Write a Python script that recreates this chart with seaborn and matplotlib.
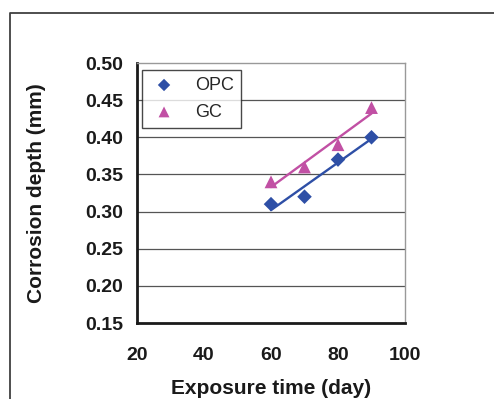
import numpy as np
import pandas as pd
import matplotlib
matplotlib.use("Agg")
import matplotlib.pyplot as plt
import seaborn as sns
from matplotlib.lines import Line2D

# data
days = [60, 70, 80, 90]
opc_depth = [0.31, 0.32, 0.37, 0.40]
gc_depth = [0.34, 0.36, 0.39, 0.44]

x_ticks = [20, 40, 60, 80, 100]
y_ticks = [0.15, 0.20, 0.25, 0.30, 0.35, 0.40, 0.45, 0.50]

df = pd.DataFrame({
    "day": days * 2,
    "depth": opc_depth + gc_depth,
    "mix": ["OPC"] * len(days) + ["GC"] * len(days),
})

sns.set_theme(style="white")
plt.rcParams["font.family"] = ["Liberation Sans", "DejaVu Sans"]

colors = {"OPC": "#2E4FA6", "GC": "#C150A4"}
markers = {"OPC": "D", "GC": "^"}
sizes = {"OPC": 55, "GC": 85}

fig = plt.figure(figsize=(4.94, 3.99), dpi=100)
ax = fig.add_axes([137 / 494, 1 - 323 / 399, 268 / 494, 260 / 399])

# outer frame of the figure (left and top edges visible)
fx, fy = 10 / 494, 1 - 13 / 399
fig.lines.append(Line2D([fx, fx, 1.01], [-0.01, fy, fy], transform=fig.transFigure,
                        color="#404040", linewidth=1.3))

# grid lines
for y in y_ticks[1:-1]:
    ax.axhline(y, color="#555555", linewidth=0.9, zorder=0)

# linear trend lines
for mix in ["OPC", "GC"]:
    sub = df[df["mix"] == mix]
    k, b = np.polyfit(sub["day"], sub["depth"], 1)
    xs = np.array([sub["day"].min(), sub["day"].max()])
    ax.plot(xs, k * xs + b, color=colors[mix], linewidth=1.7, zorder=2)

for mix in ["OPC", "GC"]:
    sub = df[df["mix"] == mix]
    sns.scatterplot(data=sub, x="day", y="depth", color=colors[mix],
                    marker=markers[mix], s=sizes[mix], edgecolor="none",
                    label=mix, ax=ax, zorder=3)

ax.set_xlim(20, 100)
ax.set_ylim(0.15, 0.50)
ax.set_xticks(x_ticks)
ax.set_yticks(y_ticks)
ax.set_yticklabels([f"{v:.2f}" for v in y_ticks])

for side in ["top", "right"]:
    ax.spines[side].set_color("#999999")
    ax.spines[side].set_linewidth(1.0)
for side in ["left", "bottom"]:
    ax.spines[side].set_color("#1a1a1a")
    ax.spines[side].set_linewidth(2.0)

ax.tick_params(axis="y", direction="out", length=5, width=2, color="#1a1a1a",
               labelsize=14, pad=5)
ax.tick_params(axis="x", direction="out", length=7, width=2, color="#1a1a1a",
               labelsize=14, pad=10)
for lbl in ax.get_xticklabels() + ax.get_yticklabels():
    lbl.set_fontweight("bold")
    lbl.set_color("#1a1a1a")

ax.set_xlabel("Exposure time (day)", fontsize=15, fontweight="bold",
              color="#1a1a1a", labelpad=11)
ax.set_ylabel("Corrosion depth (mm)", fontsize=15, fontweight="bold",
              color="#1a1a1a", labelpad=28)

handles, labels = ax.get_legend_handles_labels()
leg = ax.legend(handles, labels, loc="upper left", bbox_to_anchor=(0.02, 0.975),
                fontsize=13, frameon=True, fancybox=False, borderpad=0.4,
                handletextpad=0.9, labelspacing=0.55, markerscale=0.85,
                handlelength=1.6, borderaxespad=0)
leg.get_frame().set_edgecolor("#1a1a1a")
leg.get_frame().set_linewidth(1.0)

fig.savefig("out.png", dpi=100)
